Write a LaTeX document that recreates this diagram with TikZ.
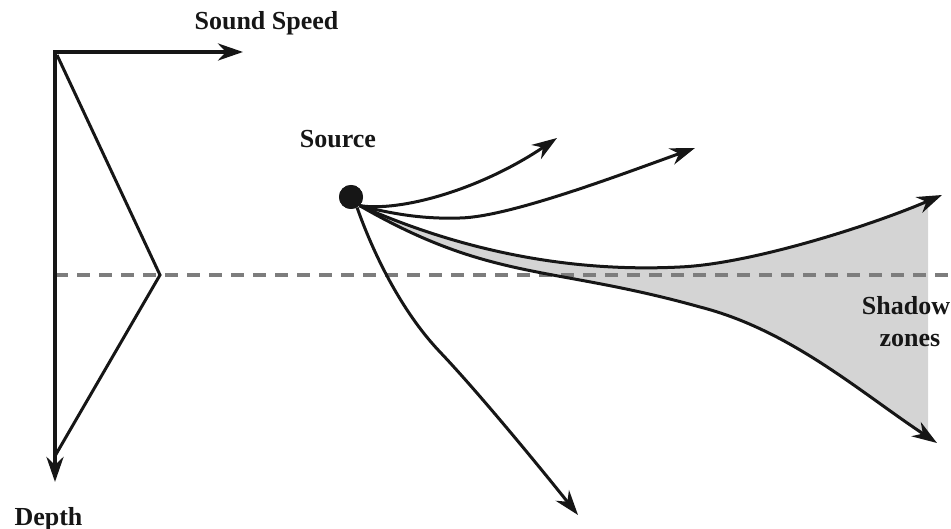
\documentclass[tikz,border=0pt]{standalone}
\usepackage{fontspec}
\setmainfont{Liberation Serif}
\usetikzlibrary{arrows.meta}
\definecolor{ink}{RGB}{22,22,22}
\definecolor{dashgray}{RGB}{125,125,125}
\definecolor{shadegray}{RGB}{212,212,212}
\tikzset{
  tip/.style={-{Stealth[length=25pt,width=17pt,inset=8pt]}},
  axisline/.style={draw=ink,line width=4pt},
  profline/.style={draw=ink,line width=3pt,line join=miter},
  ray/.style={draw=ink,line width=3pt,tip},
  depthline/.style={draw=dashgray,line width=3.5pt,dash pattern=on 13pt off 9pt},
  lbl/.style={font=\fontsize{26}{32}\selectfont\bfseries,text=ink,inner sep=0pt,anchor=base},
  srcdot/.style={circle,fill=ink,minimum size=24pt,inner sep=0pt}
}
\begin{document}
\begin{tikzpicture}[x=1pt,y=-1pt]
\useasboundingbox (0,0) rectangle (951,529);

% coordinates
\coordinate (O) at (55,52);
\coordinate (xend) at (243,52);
\coordinate (yend) at (55,482);
\coordinate (p1) at (57,55);
\coordinate (p2) at (160,275);
\coordinate (p3) at (55,456);
\coordinate (dl) at (55,275);
\coordinate (dr) at (951,275);
\coordinate (e1) at (557,138);
\coordinate (e2) at (695,148);
\coordinate (e3) at (942,195);
\coordinate (e4) at (937,443);
\coordinate (e5) at (578,515);
\node[srcdot] (src) at (351,197) {};

% shadow zone fill
\begin{scope}
\clip (0,0) rectangle (928,529);
\fill[shadegray] (src.-45) .. controls (452,246.5) and (560,273) .. (680,267)
  .. controls (750,264) and (870,226) .. (e3) -- (e4)
  .. controls (860,392) and (790,330) .. (700,307)
  .. controls (550,265) and (492,282) .. (src.-45) -- cycle;
\end{scope}

% depth line of minimum sound speed
\draw[depthline] (dl) -- (dr);

% axes
\draw[axisline,{Stealth[length=25pt,width=17pt,inset=8pt]}-{Stealth[length=25pt,width=17pt,inset=8pt]}] (xend) -- (O) -- (yend);

% sound speed profile
\draw[profline] (p1) -- (p2) -- (p3);

% rays
\draw[ray] (src.-45) .. controls (400,212) and (480,190) .. (e1);
\draw[ray] (src.-45) .. controls (400,216) and (430,219) .. (460,218)
  .. controls (510,217) and (625,173) .. (e2);
\draw[ray] (src.-45) .. controls (452,246.5) and (560,273) .. (680,267)
  .. controls (750,264) and (870,226) .. (e3);
\draw[ray] (src.-45) .. controls (492,282) and (550,265) .. (700,307)
  .. controls (790,330) and (860,392) .. (e4);
\draw[ray] (src.-60) .. controls (372,250) and (400,310) .. (440,352)
  .. controls (478,392) and (538,465) .. (e5);

% source dot on top
\node[srcdot] at (src) {};

% labels
\node[lbl] (lspeed) at (266.5,30) {Sound Speed};
\node[lbl] (ldepth) at (48.5,525) {Depth};
\node[lbl] (lsource) at (338,148) {Source};
\node[lbl] (lshadow) at (906,315) {Shadow};
\node[lbl] (lzones) at (910,347) {zones};
\end{tikzpicture}
\end{document}
